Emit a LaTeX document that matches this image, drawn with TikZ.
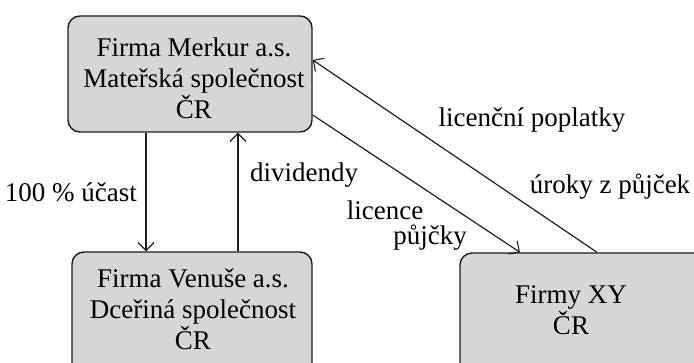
\documentclass[tikz,border=0pt]{standalone}
\usepackage{fontspec}
\setmainfont{Liberation Serif}
\usetikzlibrary{arrows.meta}
\definecolor{boxgray}{RGB}{214,214,214}
\definecolor{edge}{RGB}{30,30,30}
\begin{document}
\begin{tikzpicture}[x=1pt,y=1pt,
  firmbox/.style={draw=edge, line width=1.4pt, fill=boxgray, rounded corners=12pt,
    rectangle, inner sep=0pt},
  boxtext/.style={align=center, font=\fontsize{27}{31}\selectfont, inner sep=0pt},
  lbl/.style={font=\fontsize{27}{31}\selectfont, inner sep=0pt},
  flow/.style={draw=edge, line width=1.2pt, -{Straight Barb[length=8pt,width=16pt,line width=1.1pt]}}]
\useasboundingbox (0,0) rectangle (694,-363);
\begin{scope}
\clip (0,0) rectangle (694,-363);
% company boxes
\node[firmbox, minimum width=244pt, minimum height=116pt] (merkur) at (190,-74) {};
\node[firmbox, minimum width=240pt, minimum height=130pt] (venuse) at (192,-317) {};
\node[firmbox, minimum width=270pt, minimum height=130pt] (xy) at (595,-318) {};
% box texts
\node[boxtext] (tm) at (194,-78) {Firma Merkur a.s.\\Mateřská společnost\\ČR};
\node[boxtext] (tv) at (193,-309) {Firma Venuše a.s.\\Dceřiná společnost\\ČR};
\node[boxtext] (tx) at (571,-310) {Firmy XY\\ČR};
% flows between the parent and the subsidiary
\draw[flow] ([xshift=-44pt]merkur.south) -- ([xshift=-46pt]venuse.north);
\draw[flow] ([xshift=46pt]venuse.north) -- ([xshift=48pt]merkur.south);
% flows between the parent and the XY companies
\draw[flow] ([yshift=-41pt]merkur.east) -- ([xshift=-75pt]xy.north);
\draw[flow] ([xshift=2pt]xy.north) -- ([yshift=14pt]merkur.east);
\end{scope}
% flow labels
\node[lbl, anchor=east] (l1) at (137,-192) {100 \% účast};
\node[lbl, anchor=west] (l2) at (250,-175) {dividendy};
\node[lbl] (l3) at (385,-210) {licence};
\node[lbl] (l4) at (430,-238) {půjčky};
\node[lbl] (l5) at (532,-120) {licenční poplatky};
\node[lbl] (l6) at (610,-187) {úroky z půjček};
\end{tikzpicture}
\end{document}
